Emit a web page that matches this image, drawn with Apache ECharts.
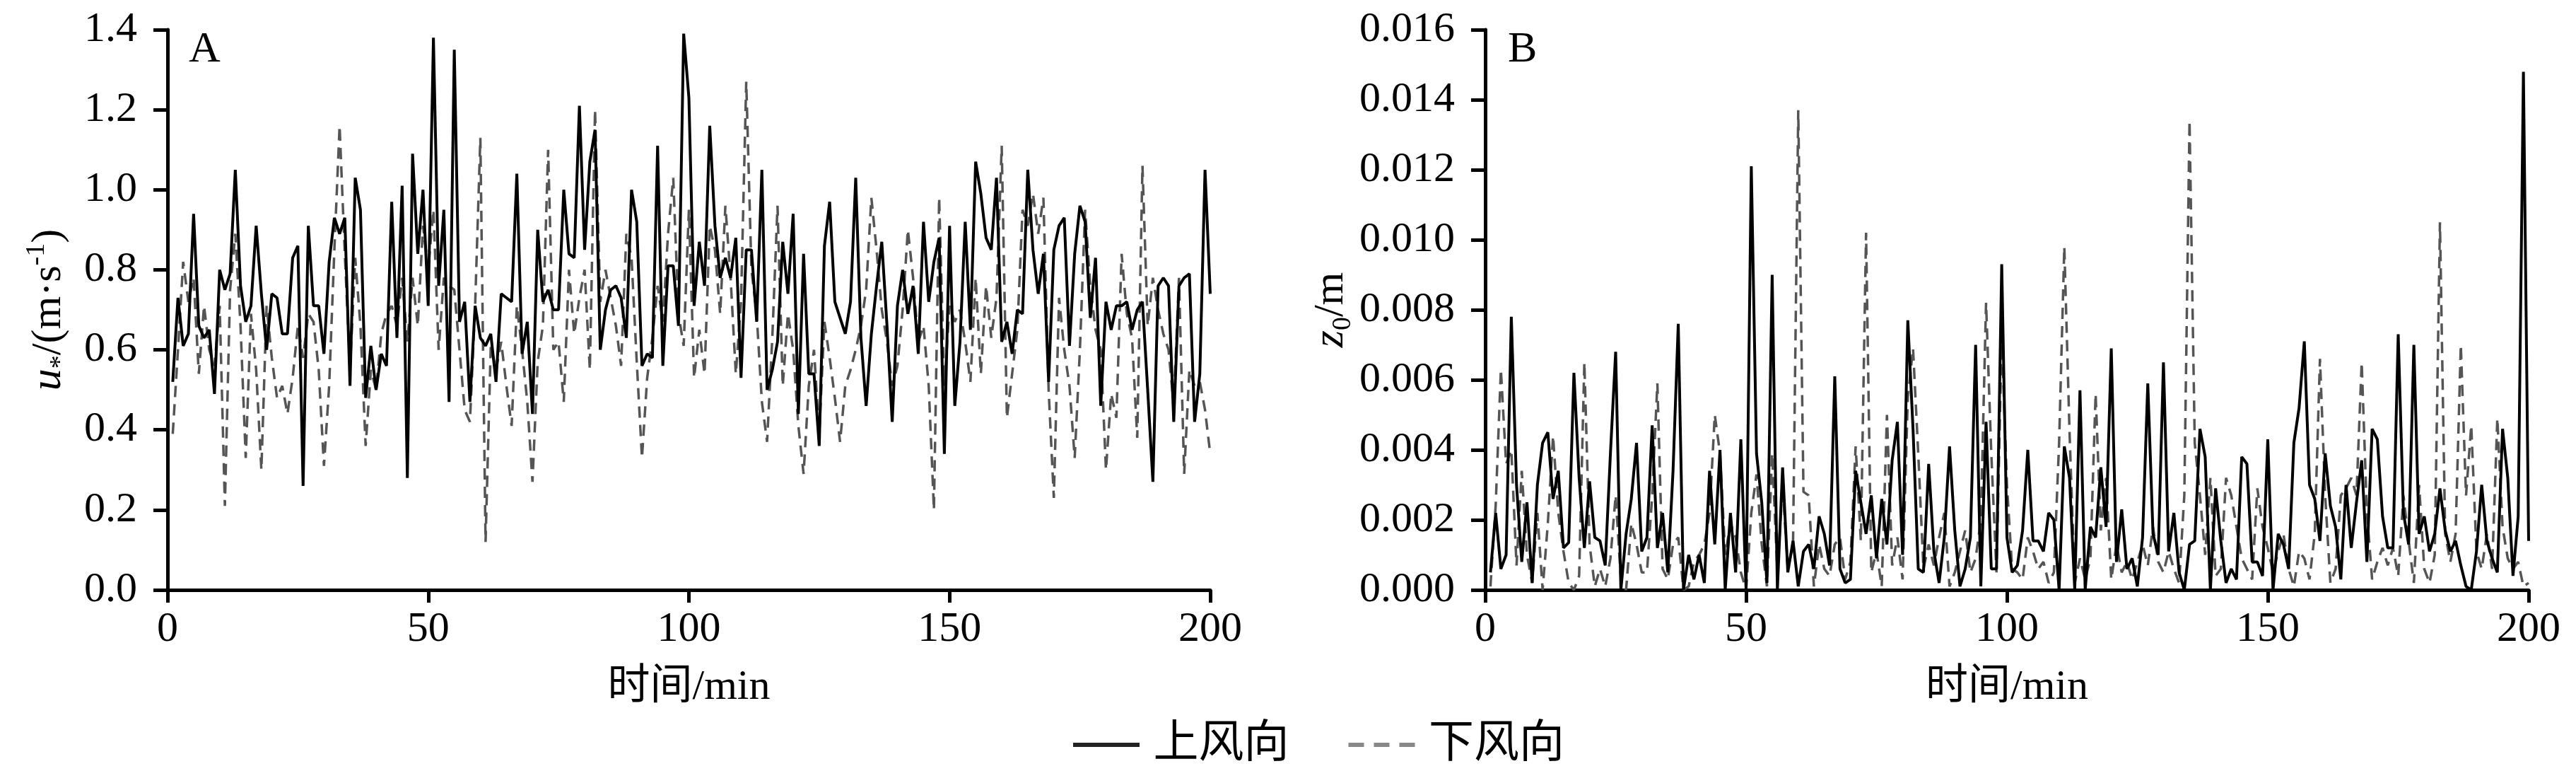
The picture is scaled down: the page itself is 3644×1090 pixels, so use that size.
<!DOCTYPE html>
<html>
<head>
<meta charset="utf-8">
<title>摩阻风速与粗糙度</title>
<script src="https://cdn.jsdelivr.net/npm/echarts@6/dist/echarts.min.js"></script>
<style>
	html, body { margin: 0; padding: 0; background: #fff; }
	#main { width: 3644px; height: 1090px; }
</style>
</head>
<body>
<div id="main"></div>
<script>
	// 时间/min 从 1 到 200，每分钟一个值
	// A: u* (m/s)
	var uUpA = [
		0.52,0.73,0.61,0.64,0.94,0.66,0.63,0.65,0.49,0.80,
		0.75,0.79,1.05,0.76,0.67,0.71,0.91,0.74,0.60,0.74,
		0.73,0.64,0.64,0.83,0.86,0.26,0.91,0.71,0.71,0.59,
		0.82,0.93,0.89,0.93,0.51,1.03,0.95,0.48,0.61,0.50,
		0.59,0.56,0.97,0.63,1.01,0.28,1.09,0.84,1.00,0.71,
		1.38,0.76,0.95,0.47,1.35,0.67,0.72,0.47,0.71,0.63,
		0.61,0.64,0.52,0.74,0.73,0.72,1.04,0.59,0.67,0.44,
		0.90,0.72,0.75,0.70,0.70,1.00,0.84,0.83,1.21,0.85,
		1.07,1.15,0.60,0.70,0.75,0.76,0.73,0.63,1.00,0.92,
		0.56,0.59,0.58,1.11,0.56,0.81,0.81,0.66,1.39,1.23,
		0.71,0.87,0.76,1.16,0.91,0.78,0.83,0.78,0.88,0.53,
		0.85,0.85,0.67,1.05,0.50,0.55,0.62,0.87,0.74,0.94,
		0.44,0.84,0.54,0.54,0.36,0.86,0.97,0.72,0.68,0.64,
		0.72,1.03,0.63,0.46,0.64,0.76,0.87,0.66,0.42,0.71,
		0.80,0.69,0.76,0.59,0.92,0.72,0.82,0.88,0.34,0.91,
		0.46,0.62,0.92,0.65,1.07,0.99,0.88,0.85,1.03,0.62,
		0.67,0.59,0.70,0.69,1.05,0.85,0.74,0.84,0.52,0.85,
		0.91,0.93,0.61,0.84,0.96,0.92,0.68,0.83,0.46,0.72,
		0.65,0.71,0.71,0.72,0.65,0.70,0.72,0.50,0.27,0.76,
		0.78,0.76,0.42,0.76,0.78,0.79,0.42,0.54,1.05,0.74
	]
	var uDownA = [
		0.39,0.60,0.82,0.72,0.78,0.54,0.71,0.60,0.56,0.71,
		0.21,0.75,0.89,0.66,0.33,0.69,0.55,0.30,0.71,0.58,
		0.48,0.51,0.44,0.53,0.66,0.58,0.69,0.67,0.55,0.31,
		0.51,0.85,1.16,0.84,0.55,0.83,0.66,0.36,0.55,0.50,
		0.64,0.69,0.71,0.66,0.78,0.62,0.78,0.66,0.91,0.80,
		0.95,0.60,0.78,0.76,0.75,0.60,0.45,0.42,0.71,1.13,
		0.12,0.61,0.55,0.62,0.51,0.41,0.71,0.60,0.47,0.27,
		0.57,0.66,1.10,0.60,0.62,0.47,0.80,0.64,0.73,0.80,
		0.55,1.20,0.72,0.80,0.73,0.66,0.56,0.89,0.83,0.57,
		0.33,0.53,0.63,0.76,0.67,0.89,1.03,0.69,0.61,0.95,
		0.53,0.65,0.54,0.91,0.85,0.69,0.96,0.78,0.54,0.72,
		1.27,0.80,0.69,0.47,0.37,0.63,0.96,0.51,0.69,0.60,
		0.41,0.29,0.51,0.60,0.39,0.67,0.58,0.48,0.37,0.51,
		0.55,0.60,0.66,0.75,0.98,0.85,0.70,0.62,0.51,0.56,
		0.70,0.90,0.78,0.62,0.66,0.51,0.20,0.98,0.51,0.71,
		0.67,0.70,0.62,0.52,0.78,0.54,0.76,0.63,0.73,1.11,
		0.43,0.54,0.65,0.95,0.91,0.99,0.89,0.98,0.50,0.23,
		0.73,0.60,0.51,0.33,0.60,0.95,0.76,0.65,0.60,0.30,
		0.49,0.43,0.84,0.69,0.63,0.38,1.06,0.66,0.78,0.70,
		0.64,0.60,0.46,0.78,0.29,0.55,0.51,0.52,0.45,0.34
	]
	// B: z0，单位 0.001 m
	var zUpB = [
		0.5,2.2,0.6,1.0,7.8,3.0,0.8,2.5,0.2,3.0,
		4.2,4.5,2.6,3.4,1.2,1.35,6.2,3.2,1.2,3.1,
		1.5,1.4,0.7,3.9,6.8,0,1.6,2.6,4.2,1.1,
		1.5,4.7,1.2,2.2,0.5,3.4,7.6,0,1.0,0.3,
		1.0,0.2,3.4,1.3,4.0,0,2.2,0.5,4.3,0,
		12.1,3.9,2.5,0.2,9.0,0,3.5,0.5,1.4,0.1,
		1.1,1.3,0.6,2.1,1.6,0.7,6.1,0.6,0.2,0.3,
		3.4,2.5,1.6,2.7,0.9,2.6,1.3,3.7,4.8,1.0,
		7.7,4.6,0.6,0.5,3.6,1.1,0.2,1.5,4.1,1.7,
		0.1,0.6,1.5,7.0,0.1,4.8,0.6,0.6,9.3,1.5,
		0.5,0.7,1.7,4.0,1.4,1.4,1.1,2.2,2.0,0,
		4.1,3.2,0,5.7,0,1.8,1.5,3.5,1.8,6.9,
		0.8,2.3,0.6,0.9,0.1,1.5,5.9,1.6,1.0,6.5,
		1.1,2.2,0.5,0,1.3,1.4,4.6,3.8,0,2.9,
		1.4,0.2,0.6,0.3,3.8,3.6,0.8,0.8,0.4,4.3,
		0,1.6,1.3,0.6,4.2,5.2,7.1,3.0,2.6,1.4,
		3.9,2.4,1.8,0.3,3.0,1.2,2.5,3.7,0.8,4.6,
		4.3,2.1,1.2,1.2,7.3,2.2,1.3,7.0,1.6,2.1,
		1.1,1.6,2.9,1.7,1.1,1.4,0.7,0.1,0,1.1,
		3.0,1.4,0.9,0.5,4.6,3.2,0.4,2.1,14.8,1.4
	]
	var zDownB = [
		0.1,2.4,6.3,3.6,4.0,0.7,3.4,1.0,0.2,2.2,
		0,1.9,4.4,2.2,1.1,0.2,0,0.4,6.5,1.3,
		0.1,0.6,0.1,0.9,2.7,0.3,0,1.9,1.3,0.5,
		0.5,2.7,5.9,0.6,0.3,1.3,1.5,0,0.1,0.8,
		1.0,1.3,2.2,5.0,3.9,1.0,1.9,1.5,0.5,0,
		2.2,3.3,1.3,0.1,3.9,0.5,3.0,0.6,1.3,13.7,
		2.8,2.7,0.1,1.3,0.6,0.4,1.3,1.5,0.3,0.8,
		4.1,1.4,10.2,0.5,1.1,0.1,5.0,0.7,1.5,0.3,
		5.5,6.9,3.9,0.6,1.3,0.7,1.5,2.2,0.1,0.5,
		1.1,1.7,0.5,0.9,2.0,8.2,3.9,0.5,7.3,3.0,
		0.6,0.5,0.3,1.5,1.1,0.6,0.8,0.2,0.5,4.2,
		9.8,4.5,0.2,0.9,0.3,0.9,5.6,1.7,3.2,0.3,
		1.3,0.5,0.8,0.3,0.8,1.3,0.7,1.8,0.8,0.5,
		1.1,0.6,0.2,2.7,13.4,4.2,2.7,1.0,3.2,0.4,
		0.6,3.2,2.7,1.8,0.9,0.6,0.3,2.9,1.8,1.2,
		0.5,1.1,1.6,0.6,0.1,1.1,0.9,0.3,1.6,6.6,
		2.7,0.2,0.6,2.7,2.9,3.2,2.7,6.5,2.2,0.3,
		0.8,1.2,0.7,1.2,0.4,2.7,1.4,0.2,3.0,0.6,
		0.2,1.0,10.5,1.6,0.8,1.6,7.0,2.7,4.7,1.1,
		0.6,1.6,0.6,4.9,1.8,0.9,0.6,0.8,0.1,0.2
	]
	var xTicks = [0, 50, 100, 150, 200]
	var legendNames = ['上风向', '下风向']

	var FONT = '"Liberation Serif", "Times New Roman", "Noto Sans CJK SC", serif'

	function pairs(arr, k) {
		return arr.map(function (v, i) { return [i + 1, v * k] })
	}

	function xAxisOpt(gi) {
		return {
			gridIndex: gi,
			type: 'value',
			min: xTicks[0],
			max: xTicks[xTicks.length - 1],
			interval: xTicks[1] - xTicks[0],
			name: '时间/min',
			nameLocation: 'middle',
			nameGap: 108,
			nameTextStyle: { fontSize: 60, fontFamily: FONT, color: '#000' },
			axisLine: { show: true, onZero: false, lineStyle: { color: '#000', width: 5 } },
			axisTick: { show: true, length: 18, lineStyle: { color: '#000', width: 5 } },
			axisLabel: { margin: 26, fontSize: 60, fontFamily: FONT, color: '#000' },
			splitLine: { show: false }
		}
	}

	function yAxisOpt(gi, max, interval, digits, name, gap, rich) {
		return {
			gridIndex: gi,
			type: 'value',
			min: 0,
			max: max,
			interval: interval,
			name: name,
			nameLocation: 'middle',
			nameRotate: 90,
			nameGap: gap,
			nameTextStyle: { fontSize: 60, fontFamily: FONT, color: '#000', rich: rich },
			axisLine: { show: true, lineStyle: { color: '#000', width: 5 } },
			axisTick: { show: true, length: 20, lineStyle: { color: '#000', width: 5 } },
			axisLabel: {
				margin: 43, fontSize: 60, fontFamily: FONT, color: '#000',
				formatter: function (v) { return v.toFixed(digits) }
			},
			splitLine: { show: false }
		}
	}

	var richName = {
		it: { fontSize: 62, fontStyle: 'italic', fontFamily: FONT, color: '#000', lineHeight: 72, verticalAlign: 'middle' },
		n: { fontSize: 60, fontFamily: FONT, color: '#000', lineHeight: 72, verticalAlign: 'middle' },
		sub: { fontSize: 38, fontFamily: FONT, color: '#000', verticalAlign: 'bottom', lineHeight: 72 },
		sup: { fontSize: 38, fontFamily: FONT, color: '#000', verticalAlign: 'top', lineHeight: 72 }
	}

	function lineSeries(name, gi, data, dashed) {
		return {
			name: name,
			type: 'line',
			xAxisIndex: gi,
			yAxisIndex: gi,
			data: data,
			symbol: 'none',
			showSymbol: false,
			z: dashed ? 2 : 3,
			itemStyle: { color: dashed ? '#555' : '#000' },
			lineStyle: dashed
				? { color: '#555', width: 3.5, type: [16, 10] }
				: { color: '#000', width: 4 },
			animation: false
		}
	}

	var option = {
		backgroundColor: '#fff',
		animation: false,
		grid: [
			{ left: 237, top: 42, width: 1475, height: 792, outerBoundsMode: 'none' },
			{ left: 2101, top: 42, width: 1476, height: 792, outerBoundsMode: 'none' }
		],
		xAxis: [xAxisOpt(0), xAxisOpt(1)],
		yAxis: [
			yAxisOpt(0, 1.4, 0.2, 1, '{it|u}{sub|*}{n|/(m·s}{sup|-1}{n|)}', 132, richName),
			yAxisOpt(1, 0.016, 0.002, 3, '{it|z}{sub|0}{n|/m}', 172, richName)
		],
		legend: {
			left: 1513,
			top: 1016,
			itemWidth: 95,
			itemHeight: 6,
			itemGap: 84,
			textStyle: { fontSize: 64, fontFamily: FONT, color: '#000', padding: [0, 0, 0, 14] },
			data: [
				{
					name: legendNames[0],
					icon: 'path://M0,0h94v6h-94z',
					itemStyle: { color: '#222' }
				},
				{
					name: legendNames[1],
					icon: 'path://M0,0h22v6h-22z M36,0h22v6h-22z M72,0h22v6h-22z',
					itemStyle: { color: '#888' }
				}
			]
		},
		graphic: [
			{ type: 'text', left: 267, top: 40, style: { text: 'A', font: '62px "Liberation Serif"', fill: '#000' } },
			{ type: 'text', left: 2133, top: 40, style: { text: 'B', font: '62px "Liberation Serif"', fill: '#000' } }
		],
		series: [
			lineSeries(legendNames[1], 0, pairs(uDownA, 1), true),
			lineSeries(legendNames[0], 0, pairs(uUpA, 1), false),
			lineSeries(legendNames[1], 1, pairs(zDownB, 0.001), true),
			lineSeries(legendNames[0], 1, pairs(zUpB, 0.001), false)
		]
	}

	var myChart = echarts.init(document.getElementById('main'))
	myChart.setOption(option, true)
</script>
</body>
</html>
